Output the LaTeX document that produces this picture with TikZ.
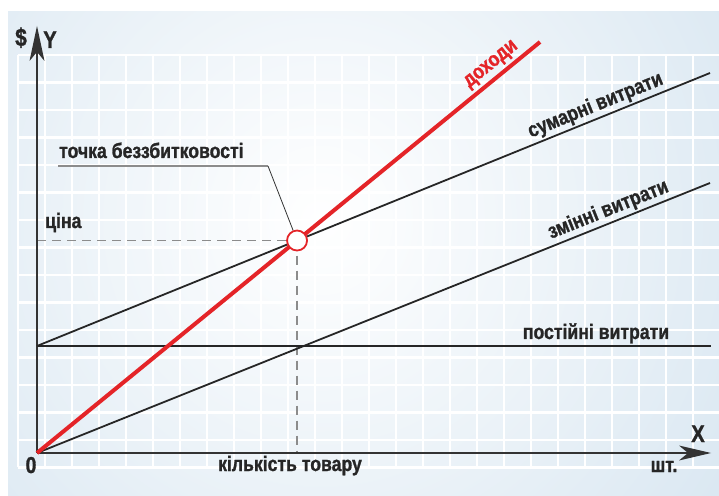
\documentclass[tikz,border=0pt]{standalone}
\usepackage{fontspec}
\setmainfont{Liberation Sans}[FakeStretch=0.84, BoldFeatures={FakeBold=1.2}]
\definecolor{cellblue}{RGB}{208,225,238}
\definecolor{incred}{RGB}{228,36,40}
\definecolor{axisgray}{RGB}{51,51,51}
\begin{document}
\begin{tikzpicture}[x=1pt, y=1pt,
  every node/.style={font=\fontsize{21}{23}\selectfont\bfseries, text=black!85, inner sep=1pt},
  gridline/.style={white, line width=2.4pt},
  axisline/.style={draw=axisgray, line width=1.6pt},
  axishead/.style={fill=axisgray},
  cost/.style={draw=black!85, line width=1.8pt},
  income/.style={draw=incred, line width=4pt},
  guide/.style={draw=black!45, line width=1.4pt, dash pattern=on 9pt off 6pt},
  note/.style={draw=black!80, line width=0.8pt}]
\useasboundingbox (0,0) rectangle (719,495);
\begin{scope}
\clip (8,0) rectangle (719,483);
\fill[cellblue] (8,0) rectangle (719,483);
\shade[inner color=white, outer color=cellblue] (320,275) ellipse[x radius=620pt, y radius=640pt];
\foreach \gx in {0,...,25} \draw[gridline] ({18+27*\gx},28) -- ({18+27*\gx},440);
\foreach \gy in {0,...,15} \draw[gridline] (18,{440-27.5*\gy}) -- (719,{440-27.5*\gy});
\end{scope}

\coordinate (O) at (37,42);
\coordinate (ytip) at (37,469);
\coordinate (xtip) at (711,42);
\coordinate (fixA) at (37,149);
\coordinate (fixB) at (711,149);
\coordinate (sumB) at (710,422);
\coordinate (varB) at (710,312);
\coordinate (incB) at (540,453);
\coordinate (bep) at (intersection of O--incB and fixA--sumB);
\coordinate (kink) at (268,329);

\draw[guide] (O |- bep) -- (bep);
\draw[guide] (bep) -- (bep |- O);

\draw[axisline] (O) -- ([yshift=-20pt]ytip);
\fill[axishead] (ytip) -- ++(-7.5,-35) -- ++(7.5,9) -- ++(7.5,-9) -- cycle;
\draw[axisline] (O) -- ([xshift=-20pt]xtip);
\fill[axishead] (xtip) -- ++(-32,7.5) -- ++(9,-7.5) -- ++(-9,-7.5) -- cycle;
\draw[cost] (fixA) -- (fixB);
\draw[cost] (fixA) -- (sumB) node[pos=0.837, sloped, above=1pt] (sumlbl) {сумарні витрати};
\draw[cost] (O) -- (varB) node[pos=0.856, sloped, above=1pt] (varlbl) {змінні витрати};
\draw[income] (O) -- (incB) node[pos=0.92, sloped, above=2pt, text=incred] (inclbl) {доходи};

\node (bepmark) [circle, draw=incred, line width=1.8pt, fill=white, minimum size=20pt, inner sep=0pt] at (bep) {};

\node (beplbl) [anchor=base west] at (58,337) {точка беззбитковості};
\draw[black!45, line width=1.4pt] (beplbl.west |- kink) -- (kink);
\draw[note] (kink) -- (bepmark);

\node (price) [anchor=base west] at (44,267) {ціна};
\node (fixlbl) [anchor=base] at (596,156) {постійні витрати};
\node (qty) [anchor=base] at (290,24) {кількість товару};
\node (zero) [anchor=base, font=\fontsize{23}{25}\selectfont\bfseries] at (31,22) {0};
\node (dollar) [anchor=base, font=\fontsize{25}{27}\selectfont\bfseries] at (21,449) {\$};
\node (ylbl) [anchor=base, font=\fontsize{24}{26}\selectfont\bfseries] at (50,447) {Y};
\node (xlbl) [anchor=base, font=\fontsize{24}{26}\selectfont\bfseries] at (698,53) {X};
\node (unit) [anchor=base] at (664,23) {шт.};
\end{tikzpicture}
\end{document}
